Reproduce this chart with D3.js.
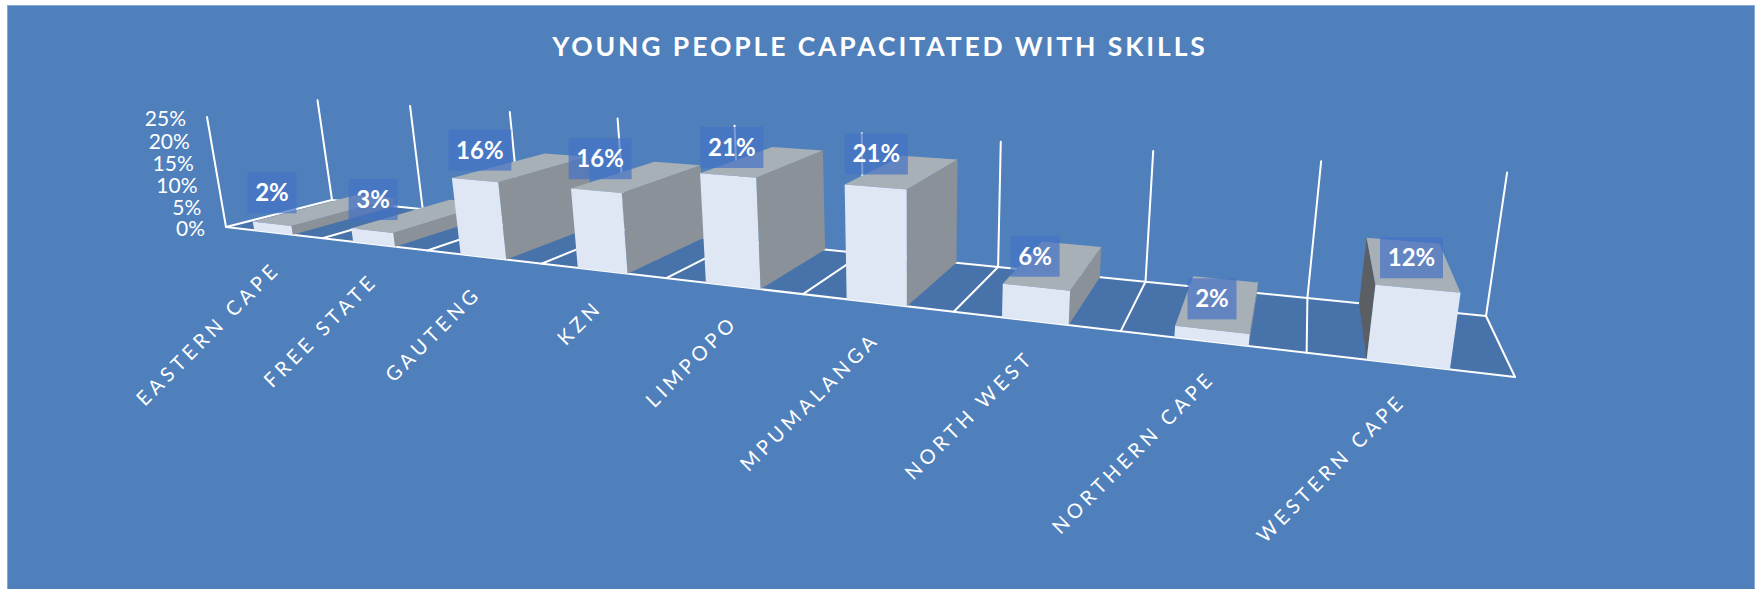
<!DOCTYPE html>
<html>
<head>
<meta charset="utf-8">
<script src="https://cdn.jsdelivr.net/npm/d3@7/dist/d3.min.js"></script>
<style>
  html, body { margin: 0; padding: 0; background: #fff; }
  svg { display: block; }
  text { font-family: Lato, "Open Sans", sans-serif; fill: #fff; }
</style>
</head>
<body>
<svg id="chart" width="1760" height="589"></svg>
<script>
// Chart content
const chartTitle = "YOUNG PEOPLE CAPACITATED WITH SKILLS";
const categories = ["EASTERN CAPE", "FREE STATE", "GAUTENG", "KZN", "LIMPOPO", "MPUMALANGA", "NORTH WEST", "NORTHERN CAPE", "WESTERN CAPE"];
const shares = [2, 3, 16, 16, 21, 21, 6, 2, 12];
const shareTicks = [0, 5, 10, 15, 20, 25];

// Hand placement of the value labels, in pixels
const labelShiftX = [0, 1, 5, 4, 4, 1, -1, 0, -6];
const labelShiftY = [0, 0, 1, -1, 3, -2, 0, 0, 0];
// Hand placement of the category labels, in pixels
const categoryShiftX = [4, 1, -5, -3, 2, 0, -4, 1, -5];

// Camera: where the floor corners and the vertical axis land on screen
const floorFrontLeft = [226, 227], floorFrontRight = [1515, 377];
const floorBackLeft = [332, 200], floorBackRight = [1486, 316];
const axisTop = [207, 117];
const verticalVanish = [914, 4209];

const colors = {
  panel: "#4f80bc", panelEdge: "#86abd9", floor: "#4773aa", line: "#ffffff",
  front: "#dee7f3", top: "#a7afb7", right: "#8a9199", left: "#5b5f64", labelBox: "#4472c4"
};

const svg = d3.select("#chart");

// Scales into the unit cube: across (x), up (h)
const xBand = d3.scaleBand().domain(categories).range([0, 1]).paddingInner(0.6).paddingOuter(0.3);
const xEdge = d3.scaleLinear().domain([0, categories.length]).range([0, 1]);
const hScale = d3.scaleLinear().domain([0, 25]).range([0, 1]);

// Unit square -> floor quadrilateral homography
function floorHomography(p00, p10, p11, p01) {
  const dx1 = p10[0] - p11[0], dx2 = p01[0] - p11[0], sx = p00[0] - p10[0] + p11[0] - p01[0];
  const dy1 = p10[1] - p11[1], dy2 = p01[1] - p11[1], sy = p00[1] - p10[1] + p11[1] - p01[1];
  const det = dx1 * dy2 - dx2 * dy1;
  const g = (sx * dy2 - dx2 * sy) / det, h = (dx1 * sy - sx * dy1) / det;
  return [
    p10[0] - p00[0] + g * p10[0], p01[0] - p00[0] + h * p01[0], p00[0],
    p10[1] - p00[1] + g * p10[1], p01[1] - p00[1] + h * p01[1], p00[1],
    g, h, 1
  ];
}
const H = floorHomography(floorFrontLeft, floorFrontRight, floorBackRight, floorBackLeft);

// Weight of the vertical direction, fixed by the top of the left axis
const lambda = (floorFrontLeft[1] - axisTop[1]) / (axisTop[1] - verticalVanish[1]);

// (x across, z depth, h up), all 0..1 -> screen
function project(x, z, h) {
  const px = H[0] * x + H[1] * z + H[2] + lambda * verticalVanish[0] * h;
  const py = H[3] * x + H[4] * z + H[5] + lambda * verticalVanish[1] * h;
  const w = H[6] * x + H[7] * z + H[8] + lambda * h;
  return [px / w, py / w];
}
const polyPath = pts => d3.line()(pts) + "Z";

// Panel
svg.append("rect").attr("x", 7.5).attr("y", 5.5).attr("width", 1747).attr("height", 590)
  .attr("fill", colors.panel).attr("stroke", colors.panelEdge).attr("stroke-width", 1);

// Title
svg.append("text").attr("x", 880).attr("y", 56).attr("text-anchor", "middle")
  .attr("font-size", 26.5).attr("font-weight", 700).attr("letter-spacing", 2.9)
  .text(chartTitle);

// Floor
svg.append("path").attr("d", polyPath([project(0,0,0), project(1,0,0), project(1,1,0), project(0,1,0)]))
  .attr("fill", colors.floor);

const edges = d3.range(categories.length + 1);
const grid = svg.append("g").attr("stroke", colors.line).attr("stroke-width", 2).attr("fill", "none").attr("stroke-linecap", "round");

// Floor side lines, back edge and cross lines
grid.append("path").attr("d", d3.line()([project(0,1,0), project(1,1,0)]));
edges.forEach(i => {
  const x = xEdge(i);
  grid.append("path").attr("d", d3.line()([project(x,0,0), project(x,1,0)]));
  grid.append("path").attr("d", d3.line()([project(x,1,0), project(x,1,1)]));
});
// Value axis on the front-left corner
grid.append("path").attr("d", d3.line()([project(0,0,0), project(0,0,1)]));

// Axis labels
svg.append("g").selectAll("text").data(shareTicks).join("text")
  .attr("x", d => project(0,0,hScale(d))[0] - 21)
  .attr("y", d => project(0,0,hScale(d))[1] + 2)
  .attr("dy", "0.35em").attr("text-anchor", "end").attr("font-size", 21)
  .text(d => d3.format("d")(d) + "%");

// Bars, left to right so nearer sides cover farther ones
const bars = svg.append("g");
categories.forEach((c, i) => {
  const x0 = xBand(c), x1 = x0 + xBand.bandwidth(), h = hScale(shares[i]);
  const g = bars.append("g");
  const face = (pts, fill) => g.append("path").attr("d", polyPath(pts)).attr("fill", fill);
  if (project(x0,1,h)[0] < project(x0,0,h)[0]) {
    face([project(x0,0,0), project(x0,1,0), project(x0,1,h), project(x0,0,h)], colors.left);
  }
  if (project(x1,1,h)[0] > project(x1,0,h)[0]) {
    face([project(x1,0,0), project(x1,1,0), project(x1,1,h), project(x1,0,h)], colors.right);
  }
  face([project(x0,0,h), project(x1,0,h), project(x1,1,h), project(x0,1,h)], colors.top);
  face([project(x0,0,0), project(x1,0,0), project(x1,0,h), project(x0,0,h)], colors.front);
});

// Front edge sits over the foot of the bars
grid.append("path").attr("d", d3.line()([project(0,0,0), project(1,0,0)])).raise();

// Category labels
svg.append("g").selectAll("text").data(categories).join("text")
  .attr("transform", (c, i) => {
    const p = project(xBand(c) + xBand.bandwidth() / 2, 0, 0);
    return `translate(${p[0] + 4 + categoryShiftX[i]},${p[1] + 38}) rotate(-45)`;
  })
  .attr("text-anchor", "end").attr("font-size", 20).attr("letter-spacing", 4.2)
  .text(c => c);

// Value labels
const labels = svg.append("g");
categories.forEach((c, i) => {
  const p = project(xBand(c) + xBand.bandwidth() / 2, 0, hScale(shares[i]));
  const cx = p[0] + labelShiftX[i], cy = p[1] - 31 + labelShiftY[i];
  const text = shares[i] + "%";
  const w = text.length === 2 ? 49 : 63;
  labels.append("rect").attr("x", cx - w / 2).attr("y", cy - 20.5)
    .attr("width", w).attr("height", 41).attr("fill", colors.labelBox).attr("fill-opacity", 0.7);
  labels.append("text").attr("x", cx).attr("y", cy).attr("dy", "0.35em")
    .attr("text-anchor", "middle").attr("font-size", 24).attr("font-weight", 700)
    .text(text);
});
</script>
</body>
</html>
